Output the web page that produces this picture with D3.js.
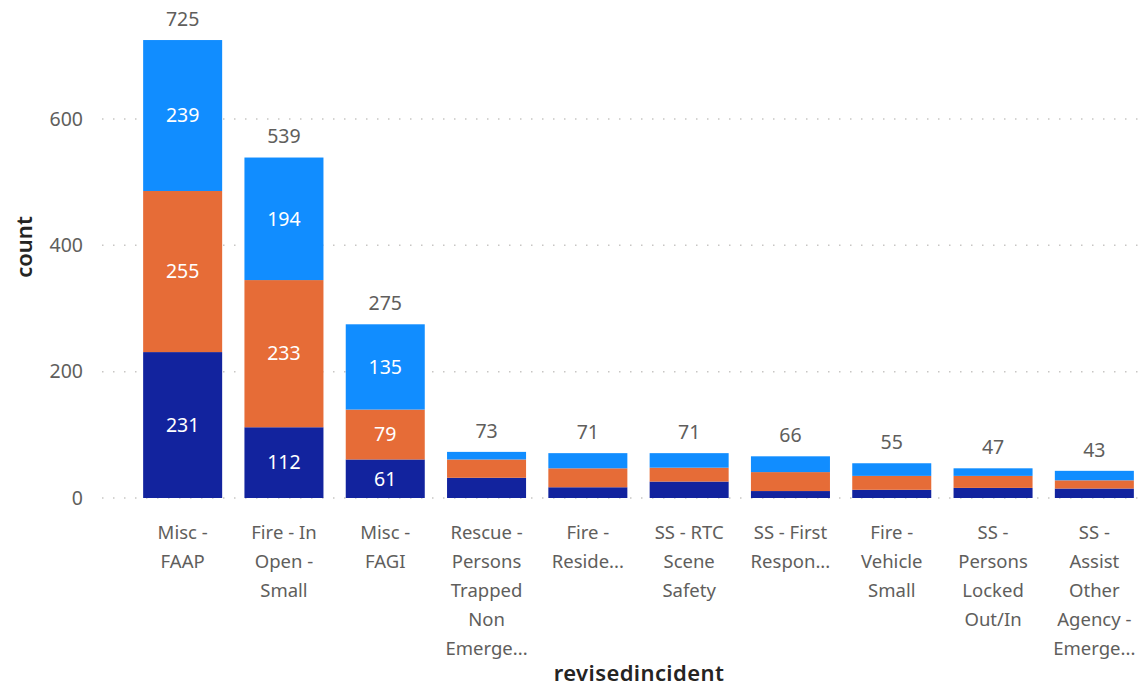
<!DOCTYPE html>
<html>
<head>
<meta charset="utf-8">
<script src="https://cdn.jsdelivr.net/npm/d3@7"></script>
<style>
  body { margin: 0; background: #fff; }
  svg { font-family: "Segoe UI", "Noto Sans", "Open Sans", sans-serif; }
</style>
</head>
<body>
<div id="chart"></div>
<script>
// ------------------------------------------------------------------
//  data
// ------------------------------------------------------------------
const categories = [
  "Misc - FAAP", "Fire - In Open - Small", "Misc - FAGI",
  "Rescue - Persons Trapped Non Emergency", "Fire - Residential",
  "SS - RTC Scene Safety", "SS - First Responder", "Fire - Vehicle Small",
  "SS - Persons Locked Out/In", "SS - Assist Other Agency - Emergency"
]

// wrapped / truncated tick labels as they show under each bar
const tickLines = [
  ["Misc -", "FAAP"],
  ["Fire - In", "Open -", "Small"],
  ["Misc -", "FAGI"],
  ["Rescue -", "Persons", "Trapped", "Non", "Emerge..."],
  ["Fire -", "Reside..."],
  ["SS - RTC", "Scene", "Safety"],
  ["SS - First", "Respon..."],
  ["Fire -", "Vehicle", "Small"],
  ["SS -", "Persons", "Locked", "Out/In"],
  ["SS -", "Assist", "Other", "Agency -", "Emerge..."]
]

// three stacked series, bottom to top
const seriesBottom = [231, 112, 61, 32, 17, 26, 11, 13, 16, 15]
const seriesMiddle = [255, 233, 79, 29, 30, 22, 30, 22, 19, 13]
const seriesTop    = [239, 194, 135, 12, 24, 23, 25, 20, 12, 15]

const yTicks = [0, 200, 400, 600]

// ------------------------------------------------------------------
//  sizes / styles
// ------------------------------------------------------------------
const WIDTH = 1140
const HEIGHT = 688
const Y_ZERO = 498
const Y_TOP = 119          // pixel of 600
const X_START = 132
const X_END = 1145
const GRID_LEFT = 102

const COLORS = { bottom: "#12239E", middle: "#E66C37", top: "#118DFF" }
const TEXT_GREY = "#605E5C"
const TITLE_COLOR = "#252423"

const svg = d3.select("#chart").append("svg")
  .attr("width", WIDTH)
  .attr("height", HEIGHT)

const table = categories.map((c, i) => ({
  cat: c,
  bottom: seriesBottom[i],
  middle: seriesMiddle[i],
  top: seriesTop[i]
}))

const keys = ["bottom", "middle", "top"]
const stacked = d3.stack().keys(keys)(table)

const x = d3.scaleBand()
  .domain(categories)
  .range([X_START, X_END])
  .paddingInner(0.22)
  .paddingOuter(0.11)

const y = d3.scaleLinear()
  .domain([0, 600])
  .range([Y_ZERO, Y_TOP])

// gridlines + y tick labels
const yAxis = svg.append("g")
yAxis.selectAll("line")
  .data(yTicks)
  .join("line")
    .attr("x1", GRID_LEFT)
    .attr("x2", WIDTH)
    .attr("y1", d => y(d))
    .attr("y2", d => y(d))
    .attr("stroke", "#C8C6C4")
    .attr("stroke-width", 1.5)
    .attr("stroke-dasharray", "1.5,9.5")

yAxis.selectAll("text")
  .data(yTicks)
  .join("text")
    .attr("x", 83)
    .attr("y", d => y(d))
    .attr("dy", "0.35em")
    .attr("text-anchor", "end")
    .attr("fill", TEXT_GREY)
    .style("font-size", "19.5px")
    .text(d => d)

// bars
svg.append("g")
  .selectAll("g")
  .data(stacked)
  .join("g")
    .attr("fill", d => COLORS[d.key])
  .selectAll("rect")
  .data(d => d)
  .join("rect")
    .attr("x", d => x(d.data.cat))
    .attr("y", d => y(d[1]))
    .attr("width", x.bandwidth())
    .attr("height", d => y(d[0]) - y(d[1]))

// values inside segments (only where there is room)
const segs = stacked
  .flatMap(s => s.map(d => ({ d: d, key: s.key })))
  .filter(o => y(o.d[0]) - y(o.d[1]) > 30)

svg.append("g")
  .selectAll("text")
  .data(segs)
  .join("text")
    .attr("x", o => x(o.d.data.cat) + x.bandwidth() / 2)
    .attr("y", o => (y(o.d[0]) + y(o.d[1])) / 2)
    .attr("dy", "0.35em")
    .attr("text-anchor", "middle")
    .attr("fill", "#fff")
    .style("font-size", "19.5px")
    .text(o => o.d.data[o.key])

// totals
svg.append("g")
  .selectAll("text")
  .data(table)
  .join("text")
    .attr("x", d => x(d.cat) + x.bandwidth() / 2)
    .attr("y", d => y(d.bottom + d.middle + d.top) - 21)
    .attr("dy", "0.35em")
    .attr("text-anchor", "middle")
    .attr("fill", TEXT_GREY)
    .style("font-size", "19.5px")
    .text(d => d.bottom + d.middle + d.top)

// x tick labels
const xt = svg.append("g")
  .selectAll("text")
  .data(categories)
  .join("text")
    .attr("x", d => x(d) + x.bandwidth() / 2)
    .attr("y", 533)
    .attr("text-anchor", "middle")
    .attr("fill", TEXT_GREY)
    .style("font-size", "18.5px")

xt.selectAll("tspan")
  .data((d, i) => tickLines[i])
  .join("tspan")
    .attr("x", function () { return d3.select(this.parentNode).attr("x") })
    .attr("y", (d, i) => 533 + i * 28.8)
    .attr("dy", "0.35em")
    .text(d => d)

// axis titles
svg.append("text")
  .attr("transform", "translate(24,247)rotate(-90)")
  .attr("dy", "0.35em")
  .attr("text-anchor", "middle")
  .attr("fill", TITLE_COLOR)
  .style("font-size", "22px")
  .style("font-weight", 600)
  .text("count")

svg.append("text")
  .attr("x", 639)
  .attr("y", 673)
  .attr("dy", "0.35em")
  .attr("text-anchor", "middle")
  .attr("fill", TITLE_COLOR)
  .style("font-size", "22px")
  .style("font-weight", 600)
  .style("letter-spacing", "0.4px")
  .text("revisedincident")
</script>
</body>
</html>
